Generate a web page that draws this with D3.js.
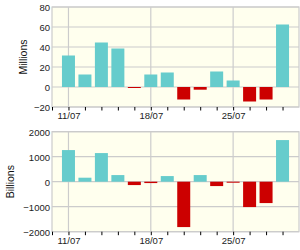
<!doctype html>
<html lang="en">
<head>
<meta charset="utf-8">
<title>Flows</title>
<script src="https://cdnjs.cloudflare.com/ajax/libs/d3/7.8.5/d3.min.js"></script>
<style>
  body { margin: 0; background: #fff; }
  svg { display: block; font-family: "Liberation Sans", Arial, sans-serif; }
  .tick text { font-size: 9.5px; fill: #222; }
</style>
</head>
<body>
<svg id="chart" width="300" height="250"></svg>
<script>
// trading days shown on the x axis
const days = ["11/07", "12/07", "13/07", "14/07", "15/07", "18/07", "19/07",
              "20/07", "21/07", "22/07", "25/07", "26/07", "27/07", "28/07"];
const labelledDays = ["11/07", "18/07", "25/07"];

// top panel, millions
const millions = [31.5, 12.5, 44.5, 38.5, -0.7, 12.5, 14.5, -12.5, -2.7, 15.5, 6.5, -14.5, -12.5, 62.5];
const millionsTicks = [-20, 0, 20, 40, 60, 80];

// bottom panel, billions
const billions = [1265, 160, 1145, 265, -135, -55, 225, -1815, 265, -175, -20, -1015, -855, 1665];
const billionsTicks = [-2000, -1000, 0, 1000, 2000];

const svg = d3.select("#chart");
const left = 52, right = 299;

const x = d3.scaleLinear().domain([-1, 14]).range([left, right]);

function panel(values, ticks, title, top, bottom, titleX) {
    const y = d3.scaleLinear().domain(d3.extent(ticks)).range([bottom, top]);
    const g = svg.append("g");

    g.append("rect")
        .attr("x", left).attr("y", top)
        .attr("width", right - left).attr("height", bottom - top)
        .attr("fill", "#ffffee");

    // horizontal grid
    g.selectAll(".hgrid").data(ticks).enter().append("line")
        .attr("x1", left).attr("x2", right)
        .attr("y1", d => y(d)).attr("y2", d => y(d))
        .attr("stroke", "#cccccc").attr("stroke-width", 1.2);

    // vertical grid at the week labels
    g.selectAll(".vgrid").data(labelledDays).enter().append("line")
        .attr("x1", d => x(days.indexOf(d))).attr("x2", d => x(days.indexOf(d)))
        .attr("y1", top).attr("y2", bottom)
        .attr("stroke", "#cccccc").attr("stroke-width", 1.2);

    // plot frame
    g.append("rect")
        .attr("x", left).attr("y", top)
        .attr("width", right - left).attr("height", bottom - top)
        .attr("fill", "none").attr("stroke", "#cccccc").attr("stroke-width", 1.2);

    g.selectAll(".bar").data(values).enter().append("rect")
        .attr("x", (d, i) => x(i) - 6.5)
        .attr("width", 13)
        .attr("y", d => y(Math.max(0, d)))
        .attr("height", d => Math.max(1, Math.abs(y(d) - y(0))))
        .attr("fill", d => d >= 0 ? "#66cccc" : "#cc0000");

    // y axis labels
    const ya = g.append("g")
        .attr("transform", `translate(${left},0)`)
        .call(d3.axisLeft(y).tickValues(ticks).tickFormat(d3.format("d")).tickSize(0).tickPadding(2));
    ya.select(".domain").remove();
    ya.selectAll(".tick text").attr("dy", "0.35em");

    // x axis ticks and labels
    const xa = g.append("g")
        .attr("transform", `translate(0,${bottom})`)
        .call(d3.axisBottom(x)
            .tickValues(d3.range(-1, 14))
            .tickSize(3.5).tickPadding(2)
            .tickFormat(i => labelledDays.includes(days[i]) ? days[i] : ""));
    xa.select(".domain").remove();
    xa.selectAll(".tick line").attr("stroke", "#000");

    g.append("text")
        .attr("transform", `translate(${titleX},${(top + bottom) / 2}) rotate(-90)`)
        .attr("text-anchor", "middle")
        .attr("font-size", 10.5)
        .attr("fill", "#111")
        .text(title);
}

panel(millions, millionsTicks, "Millions", 7, 107, 27);
panel(billions, billionsTicks, "Billions", 131.7, 231.7, 14);
</script>
</body>
</html>
